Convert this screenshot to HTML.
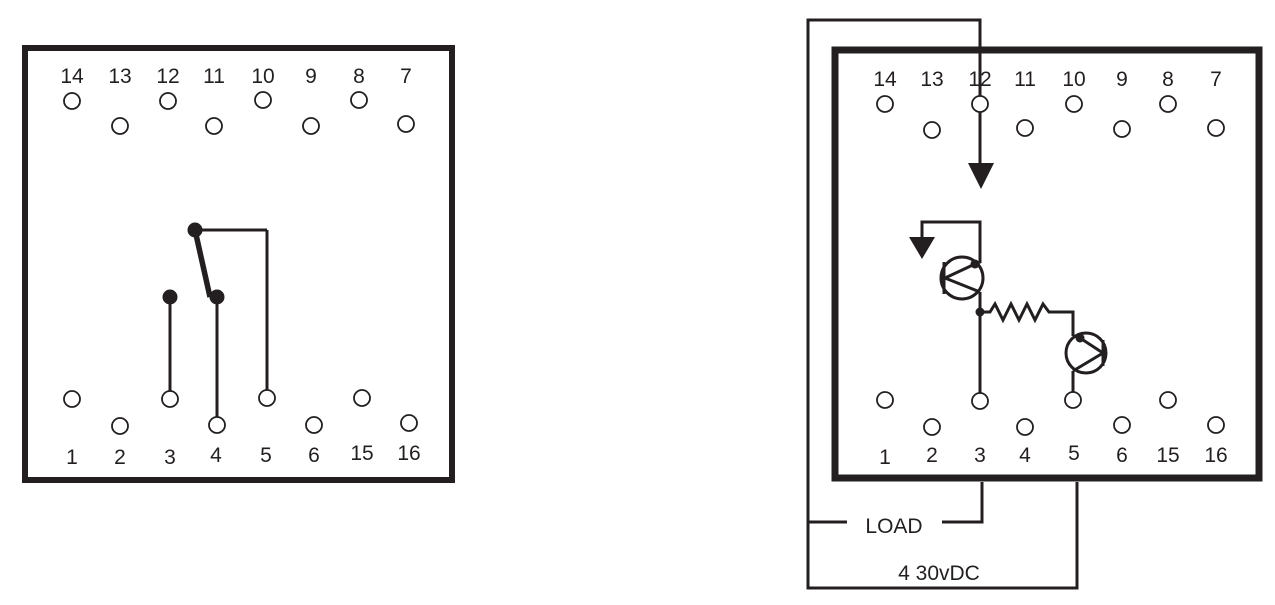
<!DOCTYPE html>
<html><head><style>body{margin:0;background:#fff}svg{display:block}text{font-family:"Liberation Sans",sans-serif;font-size:21px;fill:#231f20}</style></head><body>
<svg width="1275" height="605" viewBox="0 0 1275 605" xmlns="http://www.w3.org/2000/svg">
<g fill="none" stroke="#231f20">
<rect x="25" y="48" width="427" height="432" stroke-width="6"/>
<rect x="835" y="50" width="424" height="428" stroke-width="7"/>
</g>
<g text-anchor="middle">
<text x="72" y="83">14</text><text x="120" y="83">13</text><text x="168" y="83">12</text><text x="214" y="83">11</text><text x="263" y="83">10</text><text x="311" y="83">9</text><text x="359" y="83">8</text><text x="406" y="83">7</text>
<text x="72" y="464">1</text><text x="120" y="464">2</text><text x="170" y="464">3</text><text x="216" y="462">4</text><text x="266" y="462">5</text><text x="314" y="462">6</text><text x="362" y="460">15</text><text x="409" y="460">16</text>
<text x="885" y="86">14</text><text x="932" y="86">13</text><text x="980" y="86">12</text><text x="1025" y="86">11</text><text x="1074" y="86">10</text><text x="1122" y="86">9</text><text x="1168" y="86">8</text><text x="1216" y="86">7</text>
<text x="885" y="464">1</text><text x="932" y="462">2</text><text x="980" y="462">3</text><text x="1025" y="462">4</text><text x="1074" y="460">5</text><text x="1122" y="462">6</text><text x="1168" y="462">15</text><text x="1216" y="462">16</text>
<text x="894" y="533">LOAD</text><text x="939" y="580">4 30vDC</text>
</g>
<g fill="none" stroke="#231f20" stroke-width="3">
<line x1="195" y1="230" x2="267" y2="230"/><line x1="267" y1="230" x2="267" y2="390"/>
<line x1="170" y1="297" x2="170" y2="391"/><line x1="217" y1="297" x2="217" y2="417"/>
<line x1="195" y1="230" x2="210" y2="297" stroke-width="5.5"/>
<polyline points="980,96 980,20 808,20 808,588 1077,588 1077,482"/>
<polyline points="808,522 847,522"/><polyline points="942,522 982,522 982,482"/>
<line x1="980" y1="112" x2="980" y2="165"/>
<polyline points="975,264 980,262 980,222 922,222 922,240"/>
<line x1="980" y1="292" x2="980" y2="393"/>
<line x1="945" y1="278" x2="975" y2="264"/><line x1="945" y1="278" x2="980" y2="292"/>
<line x1="944" y1="262" x2="944" y2="294"/>
<circle cx="962" cy="278" r="21"/>
<polyline points="980,312 990,312 995,304 1003,320 1011,304 1019,320 1027,304 1035,320 1043,304 1049,312 1073,312 1073,336"/>
<circle cx="1086" cy="353" r="20"/>
<line x1="1080" y1="338" x2="1103" y2="353"/><line x1="1103" y1="353" x2="1073" y2="371"/>
<line x1="1103" y1="340" x2="1103" y2="366"/>
<polyline points="1073,371 1073,392"/>
</g>
<g fill="#231f20">
<circle cx="195" cy="230" r="7.5"/><circle cx="170" cy="297" r="7.5"/><circle cx="217" cy="297" r="7.5"/>
<polygon points="968,163 994,163 981,189"/>
<polygon points="909,237 935,237 922,259"/>
<circle cx="975" cy="264" r="4.5"/><circle cx="980" cy="312" r="4.5"/><circle cx="1080" cy="338" r="4.5"/>
</g>
<g fill="#fff" stroke="#231f20" stroke-width="1.8">
<circle cx="72" cy="101" r="8"/><circle cx="120" cy="126" r="8"/><circle cx="168" cy="101" r="8"/><circle cx="214" cy="126" r="8"/><circle cx="263" cy="100" r="8"/><circle cx="311" cy="126" r="8"/><circle cx="359" cy="100" r="8"/><circle cx="406" cy="124" r="8"/>
<circle cx="72" cy="399" r="8"/><circle cx="120" cy="426" r="8"/><circle cx="170" cy="399" r="8"/><circle cx="217" cy="425" r="8"/><circle cx="267" cy="398" r="8"/><circle cx="314" cy="425" r="8"/><circle cx="362" cy="398" r="8"/><circle cx="409" cy="423" r="8"/>
<circle cx="885" cy="104" r="8"/><circle cx="932" cy="130" r="8"/><circle cx="980" cy="104" r="8"/><circle cx="1025" cy="128" r="8"/><circle cx="1074" cy="104" r="8"/><circle cx="1122" cy="129" r="8"/><circle cx="1168" cy="104" r="8"/><circle cx="1216" cy="128" r="8"/>
<circle cx="885" cy="400" r="8"/><circle cx="932" cy="427" r="8"/><circle cx="980" cy="401" r="8"/><circle cx="1025" cy="427" r="8"/><circle cx="1073" cy="400" r="8"/><circle cx="1122" cy="425" r="8"/><circle cx="1168" cy="400" r="8"/><circle cx="1216" cy="425" r="8"/>
</g>
</svg>
</body></html>
